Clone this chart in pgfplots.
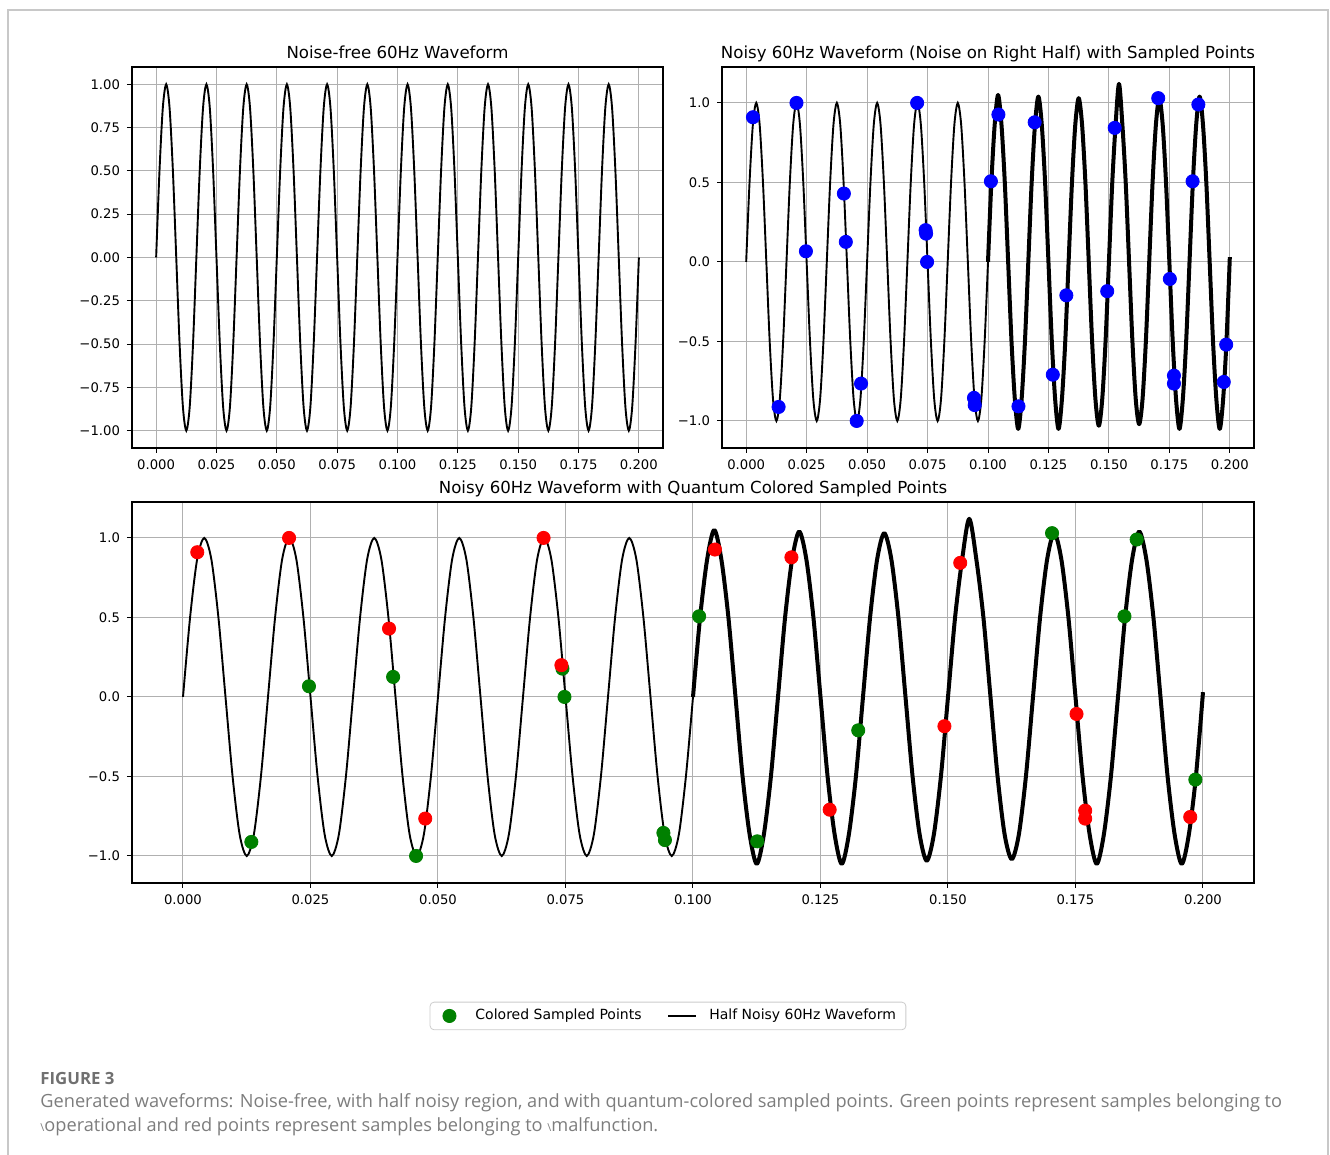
\documentclass[border=0pt]{standalone}
\usepackage{fontspec}
\setmainfont{DejaVu Sans}
\newfontfamily\capfont{Open Sans}
\usepackage{graphicx}
\usepackage{pgfplots}
\pgfplotsset{compat=1.18}
\usepackage{pgfplotstable}

\definecolor{mplgreen}{RGB}{0,128,0}
\definecolor{gridgray}{RGB}{176,176,176}
\definecolor{capgray}{RGB}{112,112,112}
\definecolor{capgray2}{RGB}{125,125,125}

\pgfplotstableread{
t v
0 0
0.001389 0.5
0.002778 0.866
0.004167 1
0.005556 0.866
0.006944 0.5
0.008333 0
0.009722 -0.5
0.011111 -0.866
0.0125 -1
0.013889 -0.866
0.015278 -0.5
0.016667 0
0.018056 0.5
0.019444 0.866
0.020833 1
0.022222 0.866
0.023611 0.5
0.025 0
0.026389 -0.5
0.027778 -0.866
0.029167 -1
0.030556 -0.866
0.031944 -0.5
0.033333 0
0.034722 0.5
0.036111 0.866
0.0375 1
0.038889 0.866
0.040278 0.5
0.041667 0
0.043056 -0.5
0.044444 -0.866
0.045833 -1
0.047222 -0.866
0.048611 -0.5
0.05 0
0.051389 0.5
0.052778 0.866
0.054167 1
0.055556 0.866
0.056944 0.5
0.058333 0
0.059722 -0.5
0.061111 -0.866
0.0625 -1
0.063889 -0.866
0.065278 -0.5
0.066667 0
0.068056 0.5
0.069444 0.866
0.070833 1
0.072222 0.866
0.073611 0.5
0.075 0
0.076389 -0.5
0.077778 -0.866
0.079167 -1
0.080556 -0.866
0.081944 -0.5
0.083333 0
0.084722 0.5
0.086111 0.866
0.0875 1
0.088889 0.866
0.090278 0.5
0.091667 0
0.093056 -0.5
0.094444 -0.866
0.095833 -1
0.097222 -0.866
0.098611 -0.5
0.1 0
}\lefthalf

\pgfplotstableread{
t v
0.1 0
0.101389 0.5
0.102778 0.866
0.104167 1
0.105556 0.866
0.106944 0.5
0.108333 0
0.109722 -0.5
0.111111 -0.866
0.1125 -1
0.113889 -0.866
0.115278 -0.5
0.116667 0
0.118056 0.5
0.119444 0.866
0.120833 1
0.122222 0.866
0.123611 0.5
0.125 0
0.126389 -0.5
0.127778 -0.866
0.129167 -1
0.130556 -0.866
0.131944 -0.5
0.133333 0
0.134722 0.5
0.136111 0.866
0.1375 1
0.138889 0.866
0.140278 0.5
0.141667 0
0.143056 -0.5
0.144444 -0.866
0.145833 -1
0.147222 -0.866
0.148611 -0.5
0.15 0
0.151389 0.5
0.152778 0.866
0.154167 1
0.155556 0.866
0.156944 0.5
0.158333 0
0.159722 -0.5
0.161111 -0.866
0.1625 -1
0.163889 -0.866
0.165278 -0.5
0.166667 0
0.168056 0.5
0.169444 0.866
0.170833 1
0.172222 0.866
0.173611 0.5
0.175 0
0.176389 -0.5
0.177778 -0.866
0.179167 -1
0.180556 -0.866
0.181944 -0.5
0.183333 0
0.184722 0.5
0.186111 0.866
0.1875 1
0.188889 0.866
0.190278 0.5
0.191667 0
0.193056 -0.5
0.194444 -0.866
0.195833 -1
0.197222 -0.866
0.198611 -0.5
0.2 0
}\righthalf

\pgfplotstableread{
t v
0.1 0
0.101389 0.5
0.102778 0.866
0.104167 1.05
0.105556 0.866
0.106944 0.5
0.108333 0
0.109722 -0.5
0.111111 -0.866
0.1125 -1.05
0.113889 -0.866
0.115278 -0.5
0.116667 0
0.118056 0.5
0.119444 0.866
0.120833 1.04
0.122222 0.866
0.123611 0.5
0.125 0
0.126389 -0.5
0.127778 -0.866
0.129167 -1.05
0.130556 -0.866
0.131944 -0.5
0.133333 0
0.134722 0.5
0.136111 0.866
0.1375 1.03
0.138889 0.866
0.140278 0.5
0.141667 0
0.143056 -0.5
0.144444 -0.866
0.145833 -1.03
0.147222 -0.866
0.148611 -0.5
0.15 0
0.151389 0.5
0.152778 0.866
0.154167 1.12
0.155556 0.866
0.156944 0.5
0.158333 0
0.159722 -0.5
0.161111 -0.866
0.1625 -1.02
0.163889 -0.866
0.165278 -0.5
0.166667 0
0.168056 0.5
0.169444 0.866
0.170833 1.03
0.172222 0.866
0.173611 0.5
0.175 0
0.176389 -0.5
0.177778 -0.866
0.179167 -1.05
0.180556 -0.866
0.181944 -0.5
0.183333 0
0.184722 0.5
0.186111 0.866
0.1875 1.04
0.188889 0.866
0.190278 0.5
0.191667 0
0.193056 -0.5
0.194444 -0.866
0.195833 -1.05
0.197222 -0.866
0.198611 -0.5
0.2 0.03
}\noisy

\pgfplotstableread{
t v
0.0134 -0.912
0.0247 0.067
0.0412 0.126
0.0457 -1.0
0.0744 0.178
0.0748 0.0
0.0942 -0.855
0.0945 -0.90
0.1012 0.507
0.1126 -0.908
0.1324 -0.21
0.1704 1.03
0.1846 0.507
0.187 0.99
0.1985 -0.52
}\greenpts

\pgfplotstableread{
t v
0.0028 0.91
0.0208 1.0
0.0404 0.43
0.0475 -0.765
0.0707 1.0
0.0742 0.20
0.1043 0.927
0.1193 0.878
0.1268 -0.709
0.1493 -0.184
0.1524 0.843
0.1752 -0.107
0.1769 -0.715
0.1769 -0.765
0.1975 -0.755
}\redpts

\pgfplotsset{
  base/.style={
    scale only axis,
    anchor=south west,
    xmin=-0.01, xmax=0.21,
    axis line style={line width=0.6pt, black},
    grid=major,
    grid style={gridgray, line width=0.5pt},
    tick align=outside,
    tick pos=left,
    major tick length=2.5pt,
    tick style={black, line width=0.5pt},
    ticklabel style={font=\fontsize{6.6}{7.5}\selectfont},
    xtick={0,0.025,0.05,0.075,0.1,0.125,0.15,0.175,0.2},
    xticklabels={0.000,0.025,0.050,0.075,0.100,0.125,0.150,0.175,0.200},
    every axis title/.style={at={(0.5,1)}, anchor=base, yshift=4pt, font=\fontsize{8.3}{9.5}\selectfont},
  },
  wave/.style={black, line width=0.95pt, smooth, no marks},
  noisewave/.style={black, line width=2pt, smooth, no marks, line join=round},
  dots/.style={only marks, mark=*, mark size=3.3pt},
}

\begin{document}
\begin{tikzpicture}
\useasboundingbox (0,0) rectangle (665pt,577.5pt);
\draw[color={rgb,255:red,200;green,200;blue,200}, line width=0.6pt] (4pt,-2pt) -- (4pt,572.5pt) -- (664pt,572.5pt) -- (664pt,-2pt);

% top-left
\begin{axis}[base, at={(66pt,353.5pt)}, width=265.5pt, height=190.5pt,
  ymin=-1.1, ymax=1.1,
  ytick={-1,-0.75,-0.5,-0.25,0,0.25,0.5,0.75,1},
  yticklabels={−1.00,−0.75,−0.50,−0.25,0.00,0.25,0.50,0.75,1.00},
  title={Noise-free 60Hz Waveform}]
\addplot[wave] table[x=t,y=v] {\lefthalf};
\addplot[wave] table[x=t,y=v] {\righthalf};
\end{axis}

% top-right
\begin{axis}[base, at={(361pt,353.5pt)}, width=266pt, height=190.5pt,
  ymin=-1.17, ymax=1.226,
  ytick={-1,-0.5,0,0.5,1},
  yticklabels={−1.0,−0.5,0.0,0.5,1.0},
  title={Noisy 60Hz Waveform (Noise on Right Half) with Sampled Points}]
\addplot[dots, blue, mark options={fill=blue, draw=blue}] table[x=t,y=v] {\greenpts};
\addplot[dots, blue, mark options={fill=blue, draw=blue}] table[x=t,y=v] {\redpts};
\addplot[wave] table[x=t,y=v] {\lefthalf};
\addplot[noisewave] table[x=t,y=v] {\noisy};
\end{axis}

% bottom
\begin{axis}[base, at={(66pt,136pt)}, width=561pt, height=190.5pt,
  ymin=-1.17, ymax=1.226,
  ytick={-1,-0.5,0,0.5,1},
  yticklabels={−1.0,−0.5,0.0,0.5,1.0},
  title={Noisy 60Hz Waveform with Quantum Colored Sampled Points},
  legend columns=2,
  legend cell align=left,
  legend style={at={(0.4777,-0.349)}, anchor=center,
    font=\fontsize{7}{8}\selectfont,
    draw={rgb,255:red,204;green,204;blue,204}, rounded corners=2pt,
    inner xsep=3pt, inner ysep=1.5pt,
    /tikz/every odd column/.append style={column sep=4pt},
    /tikz/every even column/.append style={column sep=11pt}},
]
\addplot[dots, mplgreen, mark options={fill=mplgreen, draw=mplgreen}, forget plot] table[x=t,y=v] {\greenpts};
\addplot[dots, red, mark options={fill=red, draw=red}, forget plot] table[x=t,y=v] {\redpts};
\addplot[wave, forget plot] table[x=t,y=v] {\lefthalf};
\addplot[noisewave, forget plot] table[x=t,y=v] {\noisy};
\addlegendimage{legend image code/.code={\path (0pt,0pt) (13.3pt,0pt); \fill[mplgreen] (6.5pt,0pt) circle (3.3pt);}}
\addlegendentry{Colored Sampled Points}
\addlegendimage{legend image code/.code={\draw[black, line width=0.9pt] (0pt,0pt) -- (14pt,0pt);}}
\addlegendentry{Half Noisy 60Hz Waveform}
\end{axis}

% caption
\node[anchor=base west, inner sep=0pt, text=capgray, font=\capfont\fontsize{8.4}{10}\selectfont\bfseries] at (20pt,35pt) {FIGURE 3};
\node[anchor=base west, inner sep=0pt, text=capgray2, font=\capfont\fontsize{9.1}{10}\selectfont] at (20pt,23.5pt) {Generated waveforms: Noise-free, with half noisy region, and with quantum-colored sampled points. Green points represent samples belonging to};
\node[anchor=base west, inner sep=0pt, text=capgray2, font=\capfont\fontsize{9.1}{10}\selectfont] at (20pt,11.5pt) {\scalebox{0.6}{\textbackslash}operational and red points represent samples belonging to \scalebox{0.6}{\textbackslash}malfunction.};
\end{tikzpicture}
\end{document}
